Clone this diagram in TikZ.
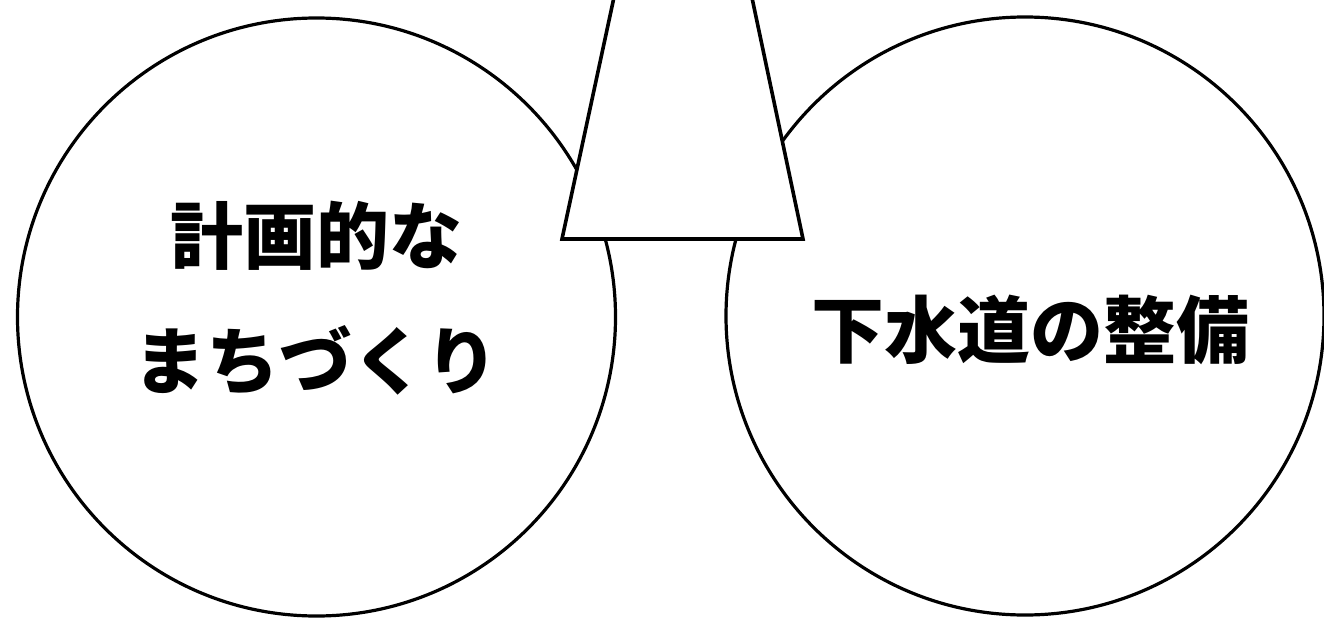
\documentclass[tikz,border=0pt]{standalone}
\usepackage{fontspec}
\newfontfamily\jp{Noto Sans CJK JP}
\begin{document}
\begin{tikzpicture}[x=1pt,y=-1pt,
  ring/.style={draw=black,line width=3.2pt,circle,minimum size=598pt,inner sep=0pt,fill=white},
  label/.style={font=\jp\bfseries\fontsize{73}{125}\selectfont,align=center,inner sep=0pt},
  cone/.style={draw=black,fill=white,line width=3.6pt,line join=miter}]
\useasboundingbox (0,0) rectangle (1324,618);
\clip (0,0) rectangle (1324,618);
\fill[white] (0,0) rectangle (1324,618);
\node[ring] (left) at (316.5,317) {};
\node[ring] (right) at (1025,316) {};
\draw[cone] (622,-40) -- (744,-40) -- (803,239) -- (562,239) -- cycle;
\node[label] (lt) at (316,298) {計画的な\\まちづくり};
\node[label] (rt) at (1030,330) {下水道の整備};
\end{tikzpicture}
\end{document}
